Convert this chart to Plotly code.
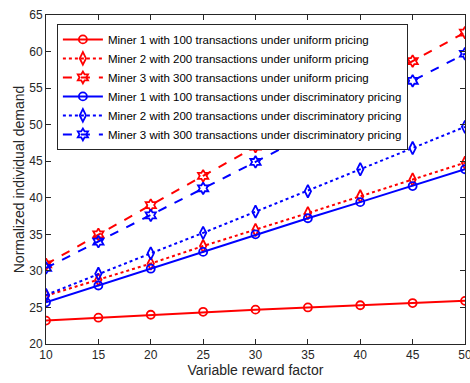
import plotly.graph_objects as go

x_vals = [10, 15, 20, 25, 30, 35, 40, 45, 50]

m1_uniform = [23.2, 23.6, 24.0, 24.4, 24.7, 25.0, 25.3, 25.6, 25.9]
m2_uniform = [26.6, 28.8, 31.0, 33.4, 35.6, 37.9, 40.2, 42.5, 44.8]
m3_uniform = [30.9, 35.0, 39.0, 43.0, 47.0, 51.0, 54.9, 58.7, 62.6]
m1_discrim = [25.7, 28.0, 30.3, 32.6, 35.0, 37.2, 39.4, 41.6, 43.9]
m2_discrim = [26.7, 29.6, 32.4, 35.2, 38.1, 40.9, 43.9, 46.8, 49.7]
m3_discrim = [30.4, 34.0, 37.6, 41.3, 44.9, 48.6, 52.3, 56.0, 59.7]

names = [
    "Miner 1 with 100 transactions under uniform pricing",
    "Miner 2 with 200 transactions under uniform pricing",
    "Miner 3 with 300 transactions under uniform pricing",
    "Miner 1 with 100 transactions under discriminatory pricing",
    "Miner 2 with 200 transactions under discriminatory pricing",
    "Miner 3 with 300 transactions under discriminatory pricing",
]
series = [m1_uniform, m2_uniform, m3_uniform, m1_discrim, m2_discrim, m3_discrim]
colors = ["#ff0000"] * 3 + ["#0000ff"] * 3
dashes = ["solid", "dot", "dash"] * 2
symbols = ["circle-open", "diamond-tall-open", "hexagram-open"] * 2
sizes = [8, 9, 9] * 2

fig = go.Figure()
for nm, ys, c, d, s, sz in zip(names, series, colors, dashes, symbols, sizes):
    fig.add_trace(go.Scatter(
        x=x_vals, y=ys, name=nm, mode="lines+markers",
        line=dict(color=c, width=2, dash=d),
        marker=dict(symbol=s, size=sz, color=c, line=dict(color=c, width=1.8)),
    ))

axis_common = dict(
    showline=True, linecolor="#262626", linewidth=1, mirror="ticks",
    ticks="inside", ticklen=5, tickcolor="#262626", tickwidth=1,
    showgrid=False, zeroline=False, automargin=False,
    tickfont=dict(family="Liberation Sans", size=12, color="#262626"),
)

fig.update_layout(
    width=470, height=383,
    margin=dict(l=46, r=5, t=15, b=39),
    plot_bgcolor="white", paper_bgcolor="white",
    font=dict(family="Liberation Sans", color="#262626"),
    xaxis=dict(range=[10, 50], dtick=5, ticklabeloverflow="allow", **axis_common,
               title=dict(text="Variable reward factor", font=dict(size=14), standoff=2)),
    yaxis=dict(range=[20, 65], dtick=5, **axis_common,
               title=dict(text="Normalized individual demand", font=dict(size=14), standoff=1)),
    legend=dict(
        x=0.026, y=0.973, xanchor="left", yanchor="top",
        bgcolor="white", bordercolor="#262626", borderwidth=1,
        font=dict(family="Liberation Sans", size=11.5, color="#000000"),
        tracegroupgap=0, itemwidth=40,
    ),
    showlegend=True,
)

fig.write_html("out.html")
